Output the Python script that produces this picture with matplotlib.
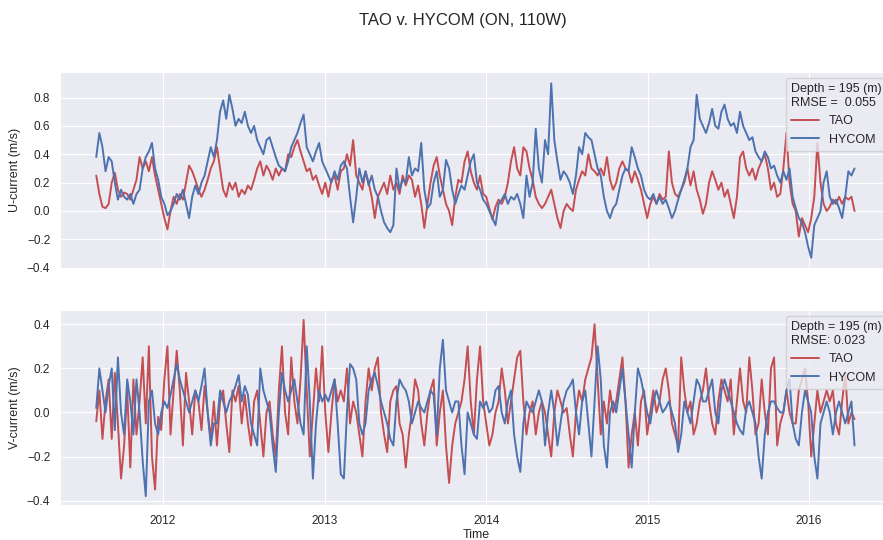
import matplotlib
matplotlib.use("Agg")
import matplotlib.pyplot as plt
import matplotlib.dates as mdates
import pandas as pd
import seaborn as sns

# weekly samples, starting 2011-08-03
tao_u = [
    0.25, 0.12, 0.03, 0.02, 0.05, 0.2, 0.27, 0.15, 0.1, 0.13,
    0.12, 0.08, 0.15, 0.22, 0.38, 0.3, 0.35, 0.28, 0.38, 0.25,
    0.15, 0.05, -0.05, -0.13, 0.0, 0.1, 0.05, 0.12, 0.08, 0.2,
    0.32, 0.28, 0.22, 0.15, 0.1, 0.15, 0.22, 0.3, 0.35, 0.45,
    0.3, 0.15, 0.1, 0.2, 0.15, 0.2, 0.1, 0.15, 0.12, 0.18,
    0.15, 0.22, 0.3, 0.35, 0.25, 0.32, 0.28, 0.22, 0.3, 0.25,
    0.3, 0.28, 0.4, 0.38, 0.45, 0.5, 0.42, 0.35, 0.28, 0.3,
    0.22, 0.25, 0.18, 0.12, 0.2, 0.1, 0.22, 0.25, 0.15, 0.28,
    0.3, 0.4, 0.32, 0.5, 0.25, 0.2, 0.15, 0.28, 0.2, 0.1,
    -0.05, 0.1, 0.15, 0.2, 0.12, 0.25, 0.15, 0.2, 0.12, 0.25,
    0.18, 0.25, 0.22, 0.1, 0.18, 0.05, -0.12, 0.05, 0.2, 0.32,
    0.38, 0.25, 0.15, 0.05, 0.0, -0.1, 0.1, 0.22, 0.2, 0.35,
    0.42, 0.28, 0.2, 0.15, 0.25, 0.12, 0.1, 0.02, -0.06, 0.03,
    0.08, 0.05, 0.1, 0.2, 0.35, 0.45, 0.3, 0.25, 0.45, 0.42,
    0.3, 0.22, 0.1, 0.05, 0.02, 0.05, 0.1, 0.15, 0.05, -0.05,
    -0.12, 0.0, 0.05, 0.02, 0.0, 0.15, 0.22, 0.28, 0.25, 0.4,
    0.3, 0.28, 0.25, 0.3, 0.25, 0.38, 0.22, 0.15, 0.2, 0.3,
    0.35, 0.3, 0.28, 0.2, 0.28, 0.22, 0.15, 0.05, -0.05, 0.05,
    0.1, 0.05, 0.12, 0.08, 0.1, 0.42, 0.2, 0.12, 0.1, 0.15,
    0.2, 0.3, 0.18, 0.28, 0.15, 0.08, -0.02, 0.05, 0.2, 0.28,
    0.22, 0.15, 0.2, 0.1, 0.15, 0.05, -0.05, 0.1, 0.38, 0.42,
    0.3, 0.25, 0.3, 0.22, 0.3, 0.35, 0.4, 0.3, 0.15, 0.2,
    0.1, 0.12, 0.3, 0.55, 0.2, 0.05, 0.0, -0.18, -0.05, -0.1,
    -0.15, -0.05, 0.1, 0.48, 0.2, 0.05, 0.0, 0.03, 0.08, 0.05,
    0.1, 0.05, 0.1, 0.08, 0.1, 0.0,
]
hycom_u = [
    0.38, 0.55, 0.45, 0.28, 0.38, 0.35, 0.2, 0.08, 0.15, 0.1,
    0.08, 0.12, 0.05, 0.12, 0.15, 0.3, 0.38, 0.42, 0.48, 0.3,
    0.22, 0.1, 0.05, -0.03, 0.0, 0.05, 0.12, 0.08, 0.15, 0.05,
    -0.05, 0.1, 0.18, 0.12, 0.2, 0.25, 0.35, 0.45, 0.38, 0.5,
    0.7, 0.78, 0.65, 0.82, 0.72, 0.6, 0.65, 0.62, 0.7, 0.6,
    0.55, 0.6, 0.5, 0.45, 0.4, 0.5, 0.52, 0.45, 0.38, 0.32,
    0.3, 0.28, 0.35, 0.45, 0.5, 0.55, 0.62, 0.68, 0.45, 0.4,
    0.35, 0.42, 0.48, 0.35, 0.3, 0.25, 0.2, 0.28, 0.22, 0.32,
    0.35, 0.3, 0.1, -0.08, 0.1, 0.3, 0.2, 0.28, 0.18, 0.25,
    0.15, 0.1, 0.0, -0.08, -0.12, -0.15, -0.1, 0.3, 0.15, 0.22,
    0.2, 0.38, 0.25, 0.3, 0.28, 0.48, 0.15, 0.02, 0.05, 0.2,
    0.28, 0.1, 0.15, 0.36, 0.3, 0.15, 0.05, 0.12, 0.18, 0.15,
    0.25, 0.35, 0.4, 0.2, 0.15, 0.08, 0.05, 0.0, -0.05, -0.1,
    0.05, 0.08, 0.12, 0.05, 0.1, 0.08, 0.12, 0.05, -0.05, 0.25,
    0.1, 0.2, 0.58, 0.3, 0.2, 0.5, 0.4, 0.9, 0.5, 0.35,
    0.22, 0.28, 0.25, 0.2, 0.12, 0.25, 0.45, 0.4, 0.55, 0.52,
    0.5, 0.4, 0.3, 0.25, 0.1, 0.0, -0.05, 0.02, 0.05, 0.15,
    0.25, 0.3, 0.28, 0.45, 0.38, 0.3, 0.25, 0.15, 0.1, 0.08,
    0.12, 0.05, 0.1, 0.05, 0.08, 0.02, -0.05, 0.0, 0.08, 0.15,
    0.22, 0.3, 0.45, 0.5, 0.82, 0.65, 0.6, 0.55, 0.62, 0.72,
    0.6, 0.58, 0.7, 0.75, 0.65, 0.6, 0.62, 0.55, 0.7, 0.6,
    0.55, 0.5, 0.52, 0.42, 0.38, 0.35, 0.42, 0.38, 0.3, 0.32,
    0.25, 0.2, 0.28, 0.22, 0.3, 0.1, 0.02, -0.05, -0.08, -0.15,
    -0.25, -0.33, -0.1, -0.05, 0.0, 0.2, 0.28, 0.1, 0.05, 0.08,
    0.02, -0.05, 0.1, 0.28, 0.25, 0.3,
]
tao_v = [
    -0.04, 0.1, -0.12, 0.05, 0.15, -0.12, 0.18, -0.05, -0.3, -0.15,
    0.1, -0.25, 0.15, -0.1, 0.05, 0.25, -0.05, 0.3, -0.2, -0.35,
    -0.02, -0.08, 0.15, 0.3, -0.1, 0.1, 0.28, 0.1, -0.15, 0.18,
    0.05, -0.1, 0.1, 0.05, -0.08, 0.12, 0.0, -0.12, 0.05, -0.15,
    0.05, 0.1, -0.05, -0.18, 0.1, 0.05, 0.12, -0.05, 0.08, -0.05,
    -0.15, 0.05, 0.1, -0.05, -0.2, 0.0, 0.05, -0.1, -0.2, 0.1,
    0.3, 0.0, -0.1, 0.25, 0.05, -0.05, 0.15, 0.42, 0.1, -0.2,
    0.0, 0.2, 0.05, 0.3, 0.0, -0.18, 0.0, 0.15, 0.05, 0.1,
    0.05, 0.2, -0.05, 0.05, 0.0, -0.1, -0.2, 0.05, 0.2, 0.1,
    0.2, 0.25, 0.0, -0.1, -0.18, 0.05, 0.1, 0.12, -0.05, -0.1,
    -0.25, -0.1, 0.0, 0.15, 0.1, -0.05, -0.15, 0.0, 0.1, 0.15,
    -0.15, 0.0, 0.1, -0.15, -0.32, -0.15, -0.05, 0.0, 0.05, 0.15,
    0.3, 0.05, -0.1, 0.15, 0.3, 0.05, -0.05, -0.15, -0.1, 0.0,
    0.05, 0.2, 0.1, -0.05, 0.05, 0.15, 0.25, 0.28, 0.05, -0.1,
    0.0, 0.05, -0.1, 0.0, 0.05, 0.0, -0.1, -0.2, 0.0, 0.1,
    0.05, 0.0, 0.02, -0.1, -0.2, 0.0, 0.1, 0.05, 0.15, 0.2,
    0.25, 0.4, 0.15, -0.1, 0.05, -0.05, 0.1, 0.0, 0.05, 0.15,
    0.25, 0.05, -0.25, -0.1, 0.0, -0.15, 0.05, 0.1, -0.1, 0.0,
    0.1, 0.0, 0.05, 0.15, 0.2, 0.1, -0.05, -0.1, -0.15, 0.25,
    0.1, 0.0, 0.05, -0.1, -0.05, 0.05, 0.1, 0.2, 0.05, -0.05,
    -0.1, 0.05, 0.15, 0.1, 0.05, 0.15, -0.1, 0.05, 0.2, 0.05,
    0.0, 0.25, 0.1, -0.1, -0.05, 0.15, 0.0, -0.1, 0.2, 0.25,
    -0.15, -0.05, 0.0, 0.1, 0.0, -0.05, -0.05, 0.1, 0.15, 0.2,
    0.05, -0.2, -0.05, 0.1, 0.0, 0.05, 0.1, 0.05, 0.1, -0.05,
    -0.1, 0.05, 0.18, -0.05, 0.0, -0.03,
]
hycom_v = [
    0.02, 0.2, 0.1, 0.0, 0.12, 0.2, -0.08, 0.25, 0.0, -0.1,
    0.15, 0.05, -0.1, 0.15, 0.0, -0.22, -0.38, 0.05, 0.1, -0.05,
    -0.1, 0.0, 0.05, 0.02, 0.08, 0.15, 0.22, 0.15, 0.1, 0.05,
    0.0, 0.05, 0.1, 0.05, 0.12, 0.2, 0.0, -0.15, -0.05, -0.05,
    0.1, 0.05, 0.0, 0.05, 0.08, 0.12, 0.17, 0.05, 0.12, 0.08,
    -0.05, -0.1, -0.15, 0.2, 0.1, 0.05, 0.0, -0.15, -0.27, 0.0,
    0.18, 0.1, 0.05, 0.1, 0.15, 0.05, -0.05, -0.1, 0.3, 0.05,
    -0.3, -0.05, 0.1, 0.05, 0.08, 0.05, 0.1, 0.15, -0.05, -0.28,
    -0.3, 0.0, 0.22, 0.2, 0.15, -0.05, -0.1, -0.05, 0.1, 0.15,
    0.18, 0.12, 0.05, 0.0, -0.05, -0.12, -0.15, 0.05, 0.15, 0.12,
    0.1, 0.05, -0.05, 0.0, 0.05, 0.02, 0.0, 0.05, 0.1, 0.08,
    -0.1, 0.2, 0.33, 0.1, 0.05, 0.0, 0.05, 0.05, -0.15, -0.28,
    0.0, -0.05, -0.1, -0.12, 0.05, 0.02, 0.05, 0.0, 0.02, 0.1,
    0.12, 0.0, -0.05, 0.05, 0.1, -0.1, -0.2, -0.27, -0.05, 0.05,
    0.02, 0.0, 0.05, 0.1, 0.05, -0.15, 0.0, 0.1, 0.0, -0.15,
    -0.05, 0.05, 0.1, 0.12, 0.15, 0.0, -0.1, 0.05, 0.1, -0.05,
    -0.2, 0.05, 0.3, 0.15, -0.15, -0.25, 0.0, 0.05, 0.0, 0.1,
    0.2, 0.05, -0.1, -0.25, 0.0, 0.2, 0.15, 0.08, 0.0, -0.05,
    0.05, 0.1, 0.05, 0.0, 0.02, 0.05, 0.0, -0.05, -0.18, -0.1,
    0.05, 0.0, -0.05, 0.05, 0.15, 0.12, 0.05, 0.05, 0.1, 0.15,
    0.0, -0.05, 0.1, 0.15, 0.1, 0.05, 0.0, -0.05, -0.08, -0.1,
    0.02, 0.05, 0.0, -0.05, -0.2, -0.3, -0.1, 0.0, 0.05, 0.05,
    0.02, 0.0, 0.0, 0.1, 0.15, -0.05, -0.12, -0.15, 0.0, 0.1,
    0.05, 0.0, -0.2, -0.3, -0.05, 0.0, 0.05, 0.0, -0.1, 0.0,
    0.05, 0.0, -0.05, 0.0, 0.05, -0.15,
]

dates = pd.date_range("2011-08-03", periods=len(tao_u), freq="7D")

COLOR_TAO = "#C44E52"
COLOR_HYCOM = "#4C72B0"

sns.set_style("darkgrid")
plt.rcParams["font.family"] = ["Liberation Sans", "DejaVu Sans"]

fig = plt.figure(figsize=(8.83, 5.4), dpi=100)
# axes run slightly past the right edge, like the cropped original
ax_u = fig.add_axes([60 / 883, 1 - 268 / 540, 833 / 883, 196 / 540])
ax_v = fig.add_axes([60 / 883, 1 - 505 / 540, 833 / 883, 195 / 540], sharex=ax_u)

panels = [
    (ax_u, tao_u, hycom_u, "U-current (m/s)", "Depth = 195 (m)\nRMSE =  0.055", (-0.402, 0.98)),
    (ax_v, tao_v, hycom_v, "V-current (m/s)", "Depth = 195 (m)\nRMSE: 0.023", (-0.42, 0.465)),
]
for ax, tao, hycom, ylabel, leg_title, ylim in panels:
    ax.plot(dates, tao, color=COLOR_TAO, lw=1.4, label="TAO")
    ax.plot(dates, hycom, color=COLOR_HYCOM, lw=1.4, label="HYCOM")
    ax.set_ylabel(ylabel, fontsize=9)
    ax.set_ylim(*ylim)
    ax.tick_params(labelsize=8.5)
    ax.legend(title=leg_title, loc="upper right", fontsize=9,
              title_fontsize=9, alignment="left", handlelength=2.2)

ax_u.set_xlim(pd.Timestamp("2011-05-13"), pd.Timestamp("2016-07-09"))
ax_u.xaxis.set_major_locator(mdates.YearLocator())
ax_u.xaxis.set_major_formatter(mdates.DateFormatter("%Y"))
ax_u.tick_params(labelbottom=False)
ax_v.set_xlabel("Time", fontsize=9, labelpad=2)

fig.text(463 / 883, 1 - 20 / 540, "TAO v. HYCOM (ON, 110W)", fontsize=12,
         ha="center", va="center")

fig.savefig("out.png", dpi=100)
